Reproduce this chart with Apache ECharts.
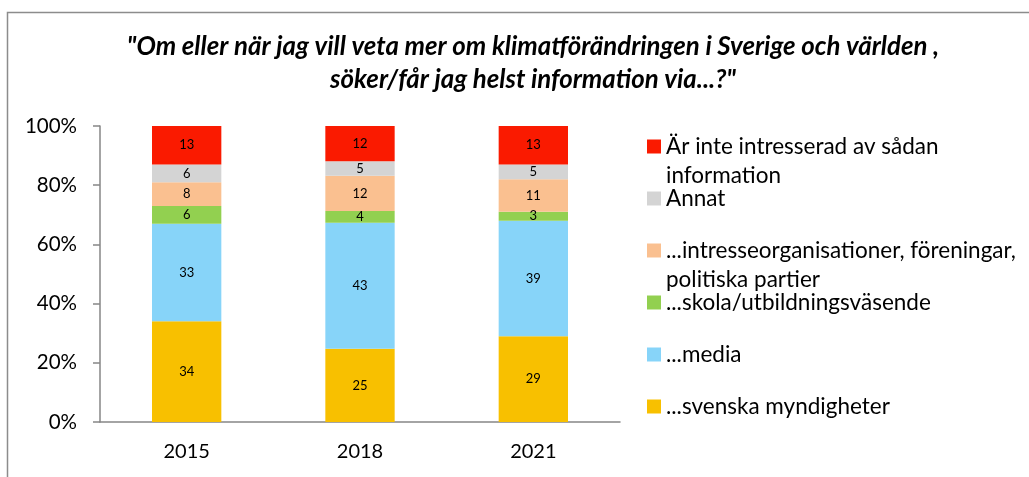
<!DOCTYPE html>
<html>
<head>
<meta charset="utf-8">
<script src="https://cdn.jsdelivr.net/npm/echarts@6/dist/echarts.min.js"></script>
<style>
  html, body { margin: 0; padding: 0; background: #fff; }
  #chart { width: 1029px; height: 477px; }
</style>
</head>
<body>
<div id="chart"></div>
<script>
const years = ['2015', '2018', '2021']

// raw survey values, bottom of the stack first
const myndigheter = [34, 25, 29]
const media = [33, 43, 39]
const skola = [6, 4, 3]
const organisationer = [8, 12, 11]
const annat = [6, 5, 5]
const ointresserad = [13, 12, 13]

const yTicks = [0, 20, 40, 60, 80, 100]

const seriesDefs = [
  { name: '...svenska myndigheter', data: myndigheter, color: '#F8C000', label: '...svenska myndigheter' },
  { name: '...media', data: media, color: '#87D4F9', label: '...media' },
  { name: '...skola/utbildningsväsende', data: skola, color: '#92D050', label: '...skola/utbildningsväsende' },
  { name: '...intresseorganisationer, föreningar, politiska partier', data: organisationer, color: '#FAC090', label: '...intresseorganisationer, föreningar,\npolitiska partier' },
  { name: 'Annat', data: annat, color: '#D4D4D4', label: 'Annat' },
  { name: 'Är inte intresserad av sådan information', data: ointresserad, color: '#FA1A00', label: 'Är inte intresserad av sådan\ninformation' }
]

// each bar is shown as a share of its own total
const totals = years.map((y, i) => seriesDefs.reduce((s, d) => s + d.data[i], 0))

const chart = echarts.init(document.getElementById('chart'))

// legend text is centred on the icon, so pad every entry to three lines
// with the first real line in the middle (icon sits beside it)
function legendText(name) {
  const lines = seriesDefs.find(d => d.name === name).label.split('\n')
  return '\n' + lines[0] + '\n' + (lines[1] || '')
}

chart.setOption({
  animation: false,
  textStyle: { fontFamily: 'Lato' },
  title: {
    text: '"Om eller när jag vill veta mer om klimatförändringen i Sverige och världen ,\nsöker/får jag helst information via...?"',
    left: 528,
    textAlign: 'center',
    top: 25,
    textStyle: {
      fontFamily: 'Lato',
      fontSize: 25.8,
      fontWeight: 'bold',
      fontStyle: 'italic',
      color: '#000',
      lineHeight: 33
    }
  },
  graphic: [{
    type: 'rect',
    left: 5,
    top: 10,
    shape: { width: 1100, height: 600 },
    style: { fill: 'none', stroke: '#8c8c8c', lineWidth: 1.5 },
    silent: true
  }],
  legend: {
    orient: 'vertical',
    left: 647,
    top: 103,
    padding: 0,
    itemWidth: 14,
    itemHeight: 14,
    itemGap: -35,
    icon: 'rect',
    selectedMode: false,
    textStyle: { fontFamily: 'Lato', fontSize: 22.5, lineHeight: 29, color: '#000' },
    formatter: legendText,
    data: seriesDefs.map(d => d.name).reverse()
  },
  grid: { left: 100, right: 409, top: 126, bottom: 55 },
  xAxis: {
    type: 'category',
    data: years,
    axisLine: { lineStyle: { color: '#868686', width: 1.5 } },
    axisTick: { length: 7, lineStyle: { color: '#868686', width: 1.5 } },
    axisLabel: { fontSize: 20, color: '#000', margin: 20 }
  },
  yAxis: {
    type: 'value',
    min: yTicks[0],
    max: yTicks[yTicks.length - 1],
    interval: 20,
    splitLine: { show: false },
    axisLine: { show: true, lineStyle: { color: '#868686', width: 1.5 } },
    axisTick: { show: true, length: 7, lineStyle: { color: '#868686', width: 1.5 } },
    axisLabel: { fontSize: 20.5, color: '#000', margin: 23, formatter: '{value}%' }
  },
  series: seriesDefs.map(d => ({
    name: d.name,
    type: 'bar',
    stack: 'total',
    barWidth: '40%',
    itemStyle: { color: d.color },
    label: {
      show: true,
      position: 'inside',
      color: '#000',
      fontSize: 13,
      fontFamily: 'Lato',
      formatter: p => d.data[p.dataIndex]
    },
    data: d.data.map((v, i) => v / totals[i] * 100)
  }))
})
</script>
</body>
</html>
